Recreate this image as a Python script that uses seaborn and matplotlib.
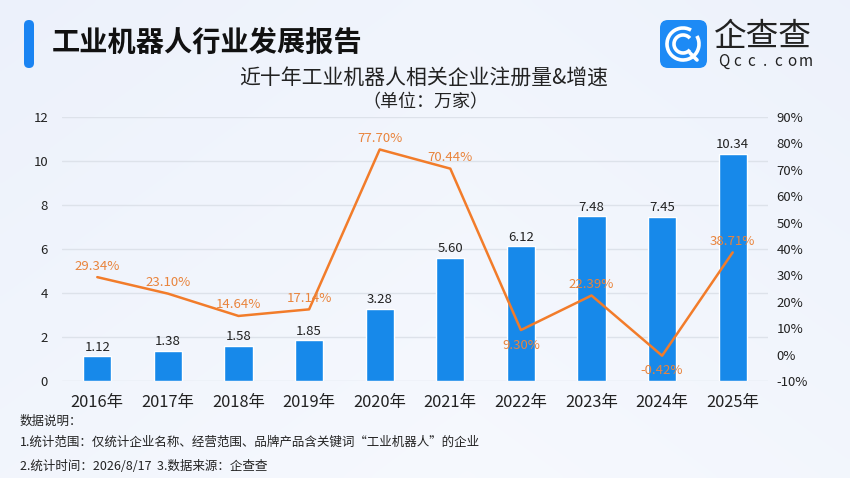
import numpy as np
import pandas as pd
import matplotlib.pyplot as plt
import seaborn as sns
from matplotlib.patches import FancyBboxPatch, Arc
from matplotlib.ticker import FuncFormatter

# data
years = ['2016年', '2017年', '2018年', '2019年', '2020年',
         '2021年', '2022年', '2023年', '2024年', '2025年']
counts = [1.12, 1.38, 1.58, 1.85, 3.28, 5.60, 6.12, 7.48, 7.45, 10.34]
growth = [29.34, 23.10, 14.64, 17.14, 77.70, 70.44, 9.30, 22.39, -0.42, 38.71]
left_ticks = [0, 2, 4, 6, 8, 10, 12]
right_ticks = [-10, 0, 10, 20, 30, 40, 50, 60, 70, 80, 90]
notes = ['数据说明：',
         '1.统计范围：仅统计企业名称、经营范围、品牌产品含关键词“工业机器人”的企业',
         '2.统计时间：2026/8/17  3.数据来源：企查查']

df = pd.DataFrame({'year': years, 'count': counts, 'growth': growth})

sns.set_theme(style='white')
plt.rcParams['font.family'] = ['Noto Sans CJK SC', 'DejaVu Sans']

BAR = '#1789ea'
LINE = '#f27c2a'
LABEL = '#e9843c'

fig = plt.figure(figsize=(8.5, 4.78), dpi=100)

# background layer in pixel coordinates
bg = fig.add_axes([0, 0, 1, 1], zorder=-1)
bg.set_xlim(0, 850)
bg.set_ylim(478, 0)
bg.axis('off')
gx, gy = np.meshgrid(np.linspace(0, 1, 200), np.linspace(0, 1, 120))
top = np.array([0.925, 0.945, 0.985])
mid = np.array([0.965, 0.975, 0.995])
w = np.clip(0.55 * gy + 0.45 * (1 - np.abs(gx - 0.55) * 1.6), 0, 1)[..., None]
grad = top * (1 - w) + mid * w
bg.imshow(grad, extent=[0, 850, 478, 0], aspect='auto', interpolation='bicubic')

# title marker and title
bg.add_patch(FancyBboxPatch((24, 20), 10, 48, boxstyle='round,pad=0,rounding_size=5',
                            fc='#1a84f2', ec='none'))
bg.text(52, 43, '工业机器人行业发展报告', fontsize=20.3, fontweight='bold',
        color='#111111', va='center', ha='left')

# logo
bg.add_patch(FancyBboxPatch((660, 20), 47, 48, boxstyle='round,pad=0,rounding_size=8',
                            fc='#1d8af5', ec='none'))
bg.add_patch(Arc((683, 44), 32, 32, theta1=-30, theta2=300, color='white', lw=2.6))
bg.add_patch(Arc((683, 44), 18, 18, theta1=40, theta2=320, color='white', lw=2.6))
bg.plot([690, 697], [53, 60], color='white', lw=2.6, solid_capstyle='round')
bg.text(714, 37, '企查查', fontsize=23.5, color='#222222', va='center', ha='left')
for k, ch in enumerate('Qcc.com'):
    bg.text(724 + k * 13.6, 61, ch, fontsize=11, color='#222222', va='center', ha='center')

# chart titles
bg.text(424, 78, '近十年工业机器人相关企业注册量&增速', fontsize=15,
        color='#222222', ha='center', va='center')
bg.text(425, 102, '（单位：万家）', fontsize=13, color='#222222', ha='center', va='center')

# footnotes
for txt, yy in zip(notes, [421, 442, 466]):
    bg.text(20, yy, txt, fontsize=9, color='#222222', va='center', ha='left')

# main chart
ax = fig.add_axes([62 / 850, 1 - 381 / 478, 706 / 850, 264 / 478])
ax.set_facecolor('none')
sns.barplot(data=df, x='year', y='count', color=BAR, width=0.4, ax=ax,
            saturation=1, zorder=3)
ax.set_ylim(0, 12)
ax.set_xlim(-0.5, 9.5)
ax.set_yticks(left_ticks)
ax.grid(axis='y', color='#dde2ea', lw=1, zorder=0)
ax.set_axisbelow(True)
for s in ax.spines.values():
    s.set_visible(False)
ax.set_xlabel('')
ax.set_ylabel('')
ax.tick_params(axis='y', labelsize=9.5, colors='#222222', length=0, pad=10)
ax.tick_params(axis='x', labelsize=11.8, colors='#222222', length=0, pad=9)
for p, v in zip(ax.patches, counts):
    ax.annotate(f'{v:.2f}', (p.get_x() + p.get_width() / 2, p.get_height()),
                xytext=(0, 2), textcoords='offset points', ha='center', va='bottom',
                fontsize=9.5, color='#222222')

ax2 = ax.twinx()
sns.lineplot(data=df, x='year', y='growth', color=LINE, lw=1.8, sort=False, ax=ax2)
ax2.set_ylim(-10, 90)
ax2.set_yticks(right_ticks)
ax2.yaxis.set_major_formatter(FuncFormatter(lambda v, _: f'{v:.0f}%'))
ax2.tick_params(axis='y', labelsize=9.5, colors='#222222', length=0, pad=6)
for s in ax2.spines.values():
    s.set_visible(False)
ax2.set_ylabel('')
ax2.grid(False)
below = {'2022年', '2024年'}
for i, (yr, g) in enumerate(zip(years, growth)):
    dy = -11 if yr in below else 8
    ax2.annotate(f'{g:.2f}%', (i, g), xytext=(0, dy), textcoords='offset points',
                 ha='center', va='center', fontsize=9.5, color=LABEL)

fig.savefig('out.png', dpi=100)
